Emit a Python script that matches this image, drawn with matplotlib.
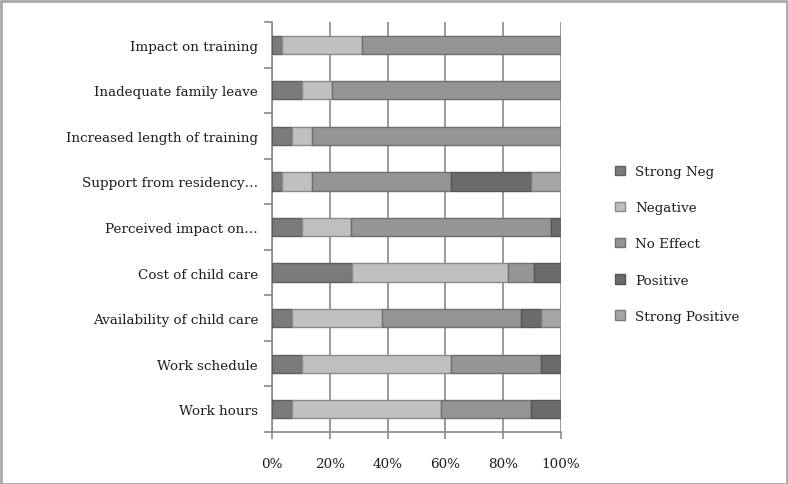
import matplotlib
matplotlib.use("Agg")
import matplotlib.pyplot as plt
from matplotlib.patches import Rectangle
import numpy as np

categories = ["Impact on training", "Inadequate family leave", "Increased length of training",
              "Support from residency…", "Perceived impact on…", "Cost of child care",
              "Availability of child care", "Work schedule", "Work hours"]
series = ["Strong Neg", "Negative", "No Effect", "Positive", "Strong Positive"]
strong_neg = [3.4, 10.3, 6.9, 3.4, 10.3, 27.6, 6.9, 10.3, 6.9]
negative = [27.6, 10.3, 6.9, 10.3, 17.2, 54.2, 31.0, 51.7, 51.7]
no_effect = [69.0, 79.4, 86.2, 48.3, 69.0, 9.0, 48.3, 31.0, 31.0]
positive = [0, 0, 0, 27.6, 3.5, 9.2, 6.9, 7.0, 10.4]
strong_positive = [0, 0, 0, 10.4, 0, 0, 6.9, 0, 0]
xticklabels = ["0%", "20%", "40%", "60%", "80%", "100%"]

colors = ["#7b7b7b", "#c0c0c0", "#959595", "#6b6b6b", "#a5a5a5"]
edges = ["#5e5e5e", "#8a8a8a", "#6e6e6e", "#555555", "#7a7a7a"]

plt.rcParams['font.family'] = ['DejaVu Serif']
fs = 9.7
fig = plt.figure(figsize=(7.88, 4.85), dpi=100)
ax = fig.add_axes([272/788, 1-433/485, (561-272)/788, (433-23)/485])

data = [strong_neg, negative, no_effect, positive, strong_positive]
y = np.arange(len(categories))[::-1]
left = np.zeros(len(categories))
handles = []
for vals, name, c, e in zip(data, series, colors, edges):
    vals = np.array(vals, dtype=float)
    h = ax.barh(y, vals, left=left, height=0.4, color=c, edgecolor=e, linewidth=1.0, label=name, zorder=3)
    handles.append(h)
    left += vals

ax.set_xlim(0, 100)
ax.set_ylim(-0.5, len(categories) - 0.5)
ax.set_xticks(np.arange(0, 101, 20))
ax.set_xticklabels(xticklabels, fontsize=fs, color="#1e1e1e")
ax.set_yticks(y)
ax.set_yticklabels(categories, fontsize=fs, color="#1e1e1e")
ax.tick_params(axis='y', length=0, pad=10)
ax.set_yticks(np.arange(-0.5, len(categories), 1.0), minor=True)
ax.tick_params(axis='y', which='minor', length=6, color="#8a8a8a", width=1.2)
ax.tick_params(axis='x', length=5, color="#8a8a8a", width=1.2, pad=13)
ax.grid(axis='x', color="#8a8a8a", linewidth=1.2, zorder=0)
for s in ['top', 'right']:
    ax.spines[s].set_visible(False)
for s in ['left', 'bottom']:
    ax.spines[s].set_color("#8a8a8a")
    ax.spines[s].set_linewidth(1.2)

leg = fig.legend(handles=handles, labels=series, loc='upper left',
                 bbox_to_anchor=(603/788, 1-154/485), frameon=False, fontsize=fs,
                 handlelength=0.7, handleheight=0.7, handletextpad=0.8, labelspacing=1.72)
for t in leg.get_texts():
    t.set_color("#1e1e1e")

fig.patches.append(Rectangle((0.5/788, 0.5/485), 1-2/788, 1-2/485, transform=fig.transFigure,
                             fill=False, edgecolor="#a8a8a8", linewidth=2))
fig.savefig("out.png", dpi=100)
